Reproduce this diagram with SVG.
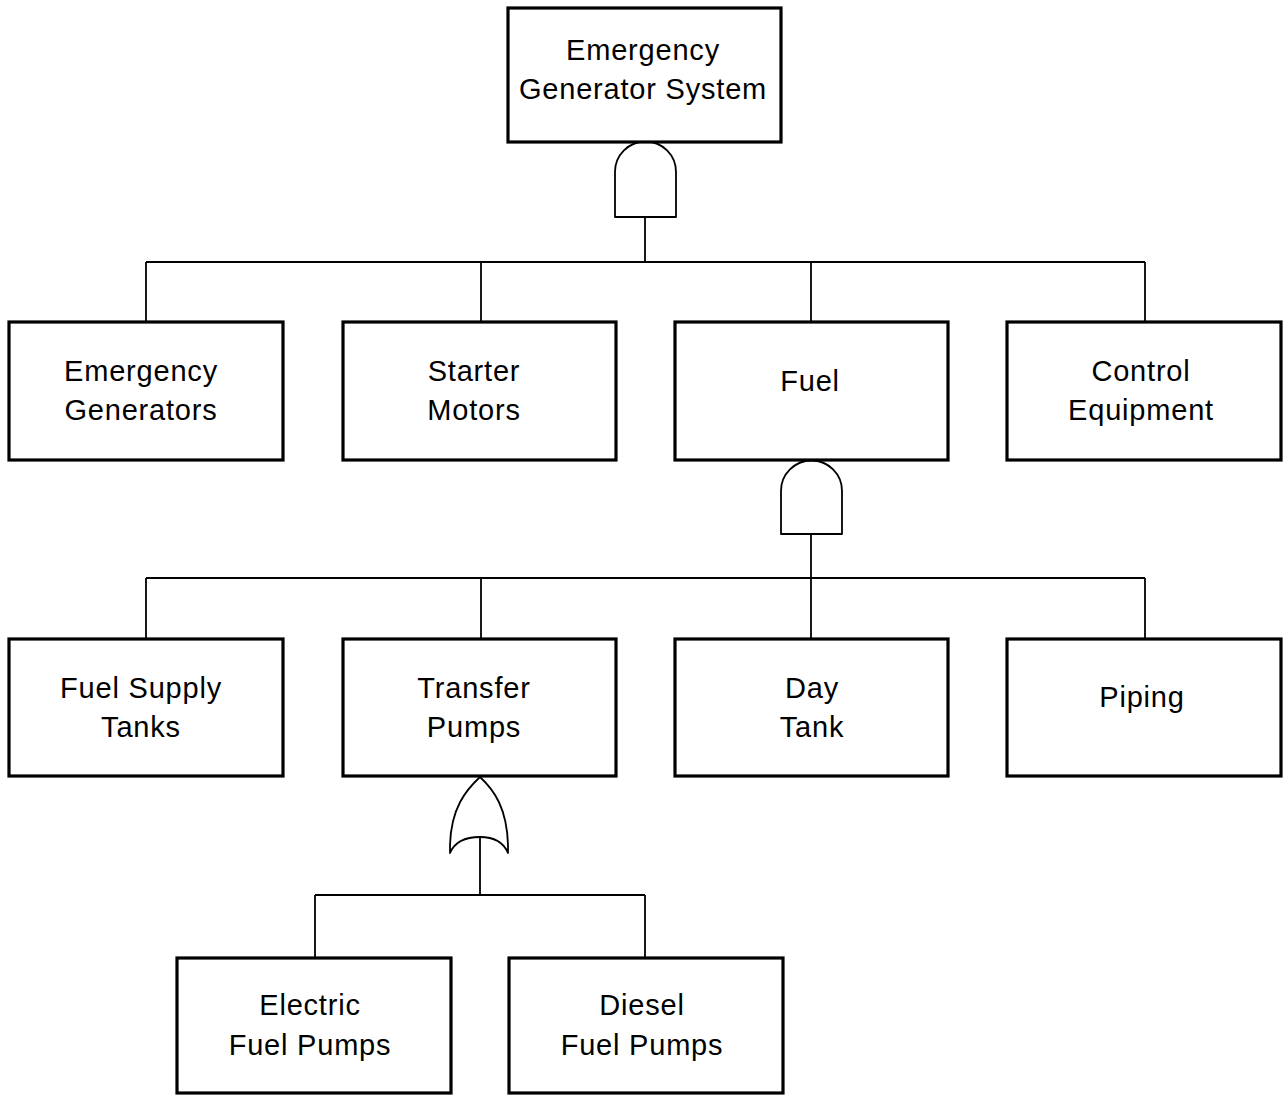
<svg xmlns="http://www.w3.org/2000/svg" width="1285" height="1095" viewBox="0 0 1285 1095">
<style>
.box{fill:#fff;stroke:#000;stroke-width:3.2}
.gate{fill:#fff;stroke:#000;stroke-width:1.8;stroke-linejoin:round}
.wire{fill:none;stroke:#000;stroke-width:1.8}
text{font-family:"Liberation Sans",Arial,sans-serif;font-size:29px;letter-spacing:0.8px;fill:#000;text-anchor:middle}
</style>
<rect width="1285" height="1095" fill="#fff"/>
<g id="connectors">
<path class="wire" d="M645,217V262M146,262H1145M146,262V322M481,262V322M811,262V322M1145,262V322"/>
<path class="wire" d="M811,534V639M146,578H1145M146,578V639M481,578V639M1145,578V639"/>
<path class="wire" d="M480,837V895M315,895H645M315,895V958M645,895V958"/>
</g>
<g id="gate-and-top"><path class="gate" d="M615,217V172A30.5,30.5 0 0 1 676,172V217Z"/></g>
<g id="gate-and-fuel"><path class="gate" d="M781,534V491A30.5,30.5 0 0 1 842,491V534Z"/></g>
<g id="gate-or-transfer"><path class="gate" d="M480,777C466,790 451,808 450,845L450,853C455,841 467,837 480,837C493,837 503,841 508,853L508,845C507,808 494,790 480,777Z"/></g>
<g id="n-system"><rect class="box" x="508" y="8" width="273" height="134"/><text x="643" y="60">Emergency</text><text x="643" y="99">Generator System</text></g>
<g id="n-gens"><rect class="box" x="9" y="322" width="274" height="138"/><text x="141" y="381">Emergency</text><text x="141" y="420">Generators</text></g>
<g id="n-starter"><rect class="box" x="343" y="322" width="273" height="138"/><text x="474" y="381">Starter</text><text x="474" y="420">Motors</text></g>
<g id="n-fuel"><rect class="box" x="675" y="322" width="273" height="138"/><text x="810" y="391">Fuel</text></g>
<g id="n-control"><rect class="box" x="1007" y="322" width="274" height="138"/><text x="1141" y="381">Control</text><text x="1141" y="420">Equipment</text></g>
<g id="n-supply"><rect class="box" x="9" y="639" width="274" height="137"/><text x="141" y="698">Fuel Supply</text><text x="141" y="737">Tanks</text></g>
<g id="n-transfer"><rect class="box" x="343" y="639" width="273" height="137"/><text x="474" y="698">Transfer</text><text x="474" y="737">Pumps</text></g>
<g id="n-day"><rect class="box" x="675" y="639" width="273" height="137"/><text x="812" y="698">Day</text><text x="812" y="737">Tank</text></g>
<g id="n-piping"><rect class="box" x="1007" y="639" width="274" height="137"/><text x="1142" y="707">Piping</text></g>
<g id="n-electric"><rect class="box" x="177" y="958" width="274" height="135"/><text x="310" y="1015">Electric</text><text x="310" y="1055">Fuel Pumps</text></g>
<g id="n-diesel"><rect class="box" x="509" y="958" width="274" height="135"/><text x="642" y="1015">Diesel</text><text x="642" y="1055">Fuel Pumps</text></g>
</svg>
